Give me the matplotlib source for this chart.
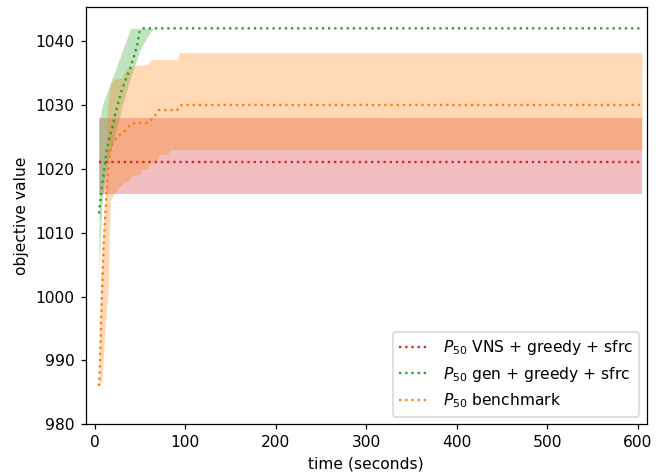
import numpy as np
import matplotlib.pyplot as plt

# time axis (seconds) and P50 / band values
red_t = [5, 605]
red_med = [1021, 1021]
red_lo = [1016, 1016]
red_hi = [1028, 1028]

green_t = [5, 6, 8, 10, 12.5, 15, 17, 20, 23, 26.5, 30, 35, 40, 44, 47.5, 50, 54, 60, 65, 605]
green_med = [1013, 1014.5, 1017, 1019.3, 1022, 1024, 1025, 1026.6, 1028.7, 1030.5, 1032.3,
             1034.2, 1036, 1037.8, 1039.6, 1041.7, 1042, 1042, 1042, 1042]
green_lo = [1003, 1007, 1014, 1017, 1019.5, 1021.5, 1022.5, 1024, 1025.8, 1027.6, 1029.5,
            1032, 1034.5, 1036, 1037.5, 1038.5, 1039.6, 1041, 1042, 1042]
green_hi = [1027, 1028, 1029.5, 1030.5, 1031.5, 1032.5, 1033.3, 1034.4, 1035.5, 1036.9, 1038.2,
            1040.1, 1042, 1042, 1042, 1042, 1042, 1042, 1042, 1042]

orange_t = [5, 6, 7, 8, 9, 10, 12, 14, 15.5, 16.5, 17.5, 19, 21, 25, 30, 34, 38, 41, 45, 50,
            51, 56, 58, 59, 61, 63, 67, 69, 71, 81, 83, 91, 94, 96, 605]
orange_med = [986, 990, 995, 999.7, 1003.6, 1008, 1013, 1018, 1021, 1022, 1022.8, 1023.7,
              1024.2, 1025, 1025.6, 1026, 1026.7, 1027, 1027.2, 1027.2, 1027.2, 1027.2, 1027.2,
              1027.3, 1027.5, 1027.7, 1028.4, 1028.8, 1029.2, 1029.2, 1029.2, 1029.2, 1029.5,
              1030, 1030]
orange_lo = [986, 986.3, 986.6, 987, 989, 991, 996, 999, 1002, 1010, 1015, 1015.5, 1016,
             1016.8, 1017.5, 1018, 1018.2, 1019, 1019, 1019.2, 1020, 1020, 1020, 1020.2, 1021,
             1021, 1021, 1021, 1022.3, 1022.3, 1023, 1023, 1023, 1023, 1023]
orange_hi = [990, 997, 1003, 1007, 1010, 1012, 1016, 1029, 1031.5, 1032.3, 1033, 1033.6, 1034,
             1034.1, 1034.2, 1035.3, 1035.8, 1036, 1036.2, 1036.2, 1036.2, 1036.3, 1036.3,
             1036.4, 1036.8, 1037.1, 1037.1, 1037.1, 1037.1, 1037.1, 1037.1, 1037.1, 1038.2,
             1038.2, 1038.2]

fig = plt.figure(figsize=(668 / 112, 475 / 112), dpi=112)
ax = fig.add_axes([0.128, 0.1067, 0.84, 0.878])

ax.fill_between(red_t, red_lo, red_hi, color='tab:red', alpha=0.3, lw=0)
ax.fill_between(green_t, green_lo, green_hi, color='tab:green', alpha=0.3, lw=0)
ax.fill_between(orange_t, orange_lo, orange_hi, color='tab:orange', alpha=0.3, lw=0)

ax.plot(red_t, red_med, ':', color='tab:red', label=r'$P_{50}$ VNS + greedy + sfrc')
ax.plot(green_t, green_med, ':', color='tab:green', label=r'$P_{50}$ gen + greedy + sfrc')
ax.plot(orange_t, orange_med, ':', color='tab:orange', label=r'$P_{50}$ benchmark')

ax.set_xlim(-10, 610)
ax.set_ylim(980, 1045.3)
ax.set_yticks(np.arange(980, 1041, 10))
ax.set_xticks(np.arange(0, 601, 100))
ax.set_xlabel('time (seconds)')
ax.set_ylabel('objective value')
ax.legend(loc='lower right')

fig.savefig('out.png', dpi=112)
